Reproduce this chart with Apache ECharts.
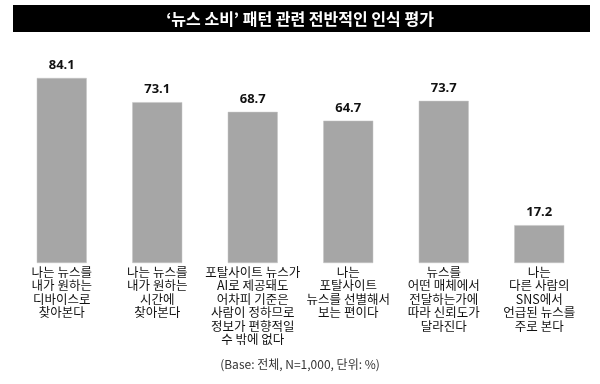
<!DOCTYPE html>
<html><head><meta charset="utf-8">
<script src="https://cdn.jsdelivr.net/npm/echarts@6/dist/echarts.min.js"></script>
<style>html,body{margin:0;padding:0;background:#fff}#c{width:600px;height:384px}</style>
</head><body><div id="c"></div>
<script>
const titleText = "‘뉴스 소비’ 패턴 관련 전반적인 인식 평가";
const categories = [
  "나는 뉴스를\n내가 원하는\n디바이스로\n찾아본다",
  "나는 뉴스를\n내가 원하는\n시간에\n찾아본다",
  "포탈사이트 뉴스가\nAI로 제공돼도\n어차피 기준은\n사람이 정하므로\n정보가 편향적일\n수 밖에 없다",
  "나는\n포탈사이트\n뉴스를 선별해서\n보는 편이다",
  "뉴스를\n어떤 매체에서\n전달하는가에\n따라 신뢰도가\n달라진다",
  "나는\n다른 사람의\nSNS에서\n언급된 뉴스를\n주로 본다"
];
const values = [84.1, 73.1, 68.7, 64.7, 73.7, 17.2];
const footnote = "(Base: 전체, N=1,000, 단위: %)";

const chart = echarts.init(document.getElementById('c'), null, {renderer: 'canvas'});
const KR = '"Noto Sans CJK KR", "Noto Sans", sans-serif';
chart.setOption({
  animation: false,
  backgroundColor: '#fff',
  graphic: [
    {type: 'rect', shape: {x: 13, y: 5, width: 577, height: 27}, style: {fill: '#000'}, z: 0},
    {type: 'text', left: 'center', top: 358, style: {text: footnote, fill: '#333', font: '12px ' + KR}}
  ],
  title: {
    text: titleText, left: 'center', top: 6,
    textStyle: {color: '#fff', fontSize: 16, fontWeight: 'bold', fontFamily: KR}
  },
  grid: {left: 14, right: 13, top: 43, bottom: 121},
  xAxis: {
    type: 'category', data: categories,
    axisLine: {show: false}, axisTick: {show: false},
    axisLabel: {interval: 0, margin: 2, color: '#111', fontSize: 12.5, lineHeight: 13.5, fontFamily: KR}
  },
  yAxis: {type: 'value', min: 0, max: 100, show: false, splitLine: {show: false}},
  series: [{
    type: 'bar', data: values, barWidth: 50,
    itemStyle: {color: '#a6a6a6', borderColor: '#c4c4c4', borderWidth: 0.5},
    label: {show: true, position: 'top', distance: 6, color: '#111', fontSize: 13, fontWeight: 'bold',
      fontFamily: '"Open Sans", "Noto Sans", sans-serif', formatter: p => p.value.toFixed(1)}
  }]
});
</script></body></html>
